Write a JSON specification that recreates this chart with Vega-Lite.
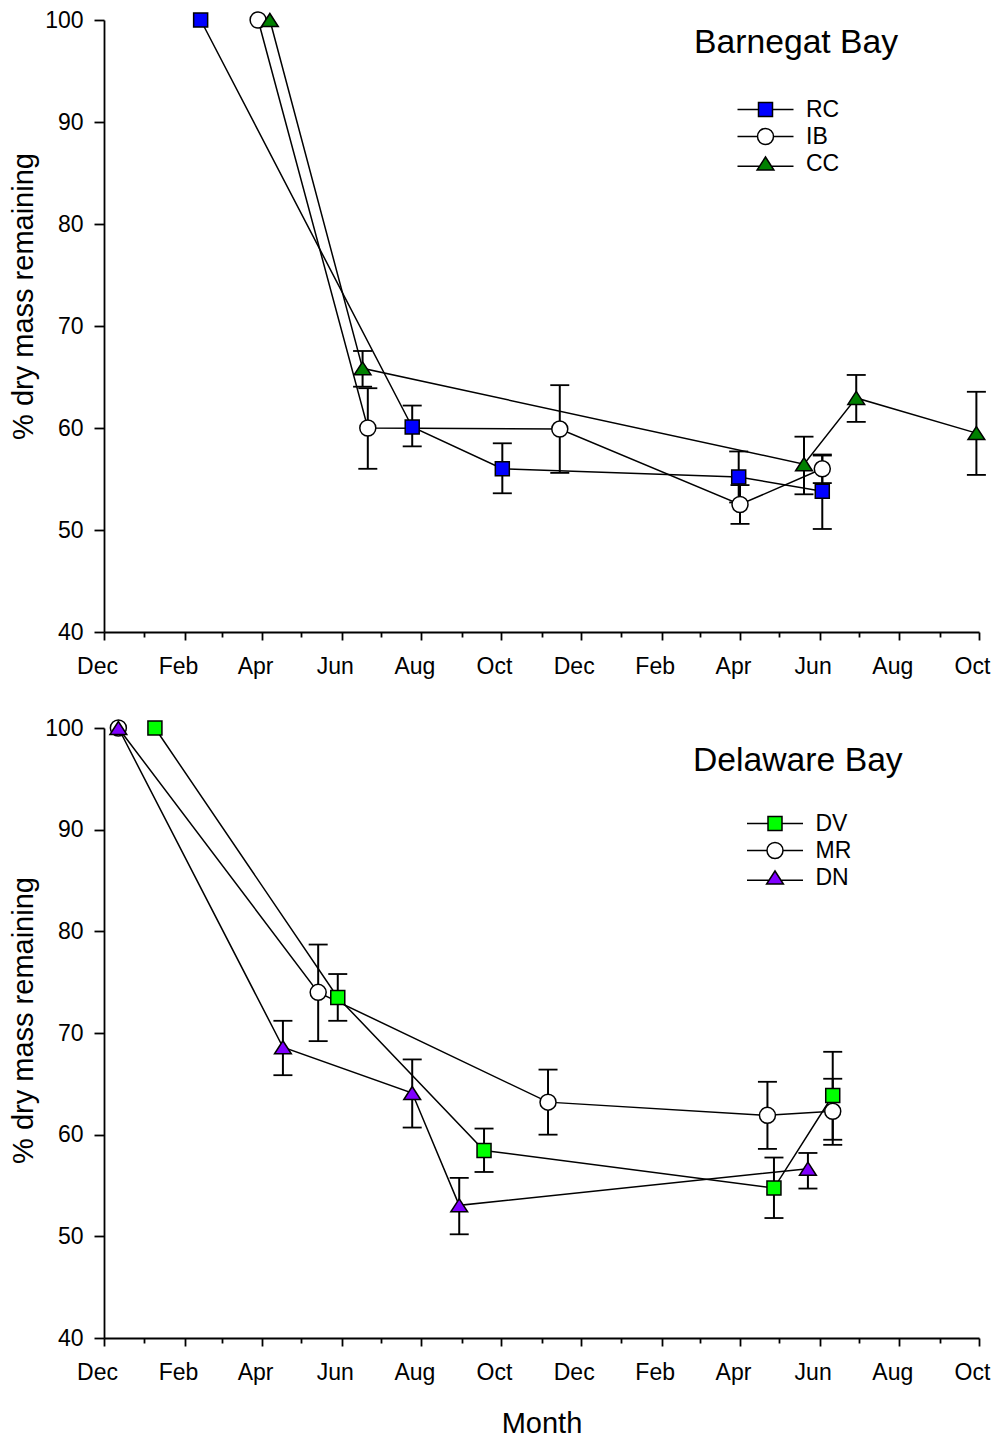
{
  "$schema": "https://vega.github.io/schema/vega-lite/v6.json",
  "background": "white",
  "padding": {"left": 9, "top": 8, "right": 5, "bottom": 5},
  "bounds": "flush",
  "spacing": 96,
  "config": {
    "font": "Liberation Sans",
    "view": {"stroke": null},
    "axis": {
      "grid": false, "domainColor": "black", "tickColor": "black", "labelColor": "black", "titleColor": "black",
      "domainWidth": 1.8, "tickWidth": 1.8, "labelFontSize": 23, "titleFontSize": 29, "titleFontWeight": "normal",
      "labelFont": "Liberation Sans", "titleFont": "Liberation Sans", "labelFlush": false, "labelOverlap": false, "labelBound": false
    },
    "title": {"fontSize": 33.7, "fontWeight": "normal", "font": "Liberation Sans", "anchor": "start", "frame": "group", "offset": 0, "baseline": "alphabetic", "color": "black"},
    "legend": {"labelFontSize": 23, "labelColor": "black", "labelFont": "Liberation Sans", "labelLimit": 0, "symbolSize": 196, "symbolStrokeWidth": 1.5, "symbolOpacity": 1, "padding": 0, "rowPadding": 3, "title": null}
  },
  "datasets": {
    "barnegat": [
      {"site": "RC", "date": "2015-02-13", "mean": 100, "lo": null, "hi": null},
      {"site": "RC", "date": "2015-07-25", "mean": 60.1, "lo": 58.2, "hi": 62.2},
      {"site": "RC", "date": "2015-10-02", "mean": 56.0, "lo": 53.6, "hi": 58.5},
      {"site": "RC", "date": "2016-03-31", "mean": 55.2, "lo": 52.7, "hi": 57.7},
      {"site": "RC", "date": "2016-06-03", "mean": 53.8, "lo": 50.1, "hi": 57.3},
      {"site": "IB", "date": "2015-03-29", "mean": 100, "lo": null, "hi": null},
      {"site": "IB", "date": "2015-06-21", "mean": 60.0, "lo": 56.0, "hi": 63.9},
      {"site": "IB", "date": "2015-11-15", "mean": 59.9, "lo": 55.6, "hi": 64.2},
      {"site": "IB", "date": "2016-04-01", "mean": 52.5, "lo": 50.6, "hi": 54.4},
      {"site": "IB", "date": "2016-06-03", "mean": 56.0, "lo": 54.6, "hi": 57.4},
      {"site": "CC", "date": "2015-04-07", "mean": 100, "lo": null, "hi": null},
      {"site": "CC", "date": "2015-06-17", "mean": 65.85, "lo": 64.05, "hi": 67.55},
      {"site": "CC", "date": "2016-05-20", "mean": 56.45, "lo": 53.5, "hi": 59.15},
      {"site": "CC", "date": "2016-06-29", "mean": 62.95, "lo": 60.6, "hi": 65.2},
      {"site": "CC", "date": "2016-09-29", "mean": 59.5, "lo": 55.4, "hi": 63.55}
    ],
    "delaware": [
      {"site": "DV", "date": "2015-01-09", "mean": 100, "lo": null, "hi": null},
      {"site": "DV", "date": "2015-05-29", "mean": 73.5, "lo": 71.2, "hi": 75.8},
      {"site": "DV", "date": "2015-09-18", "mean": 58.45, "lo": 56.33, "hi": 60.6},
      {"site": "DV", "date": "2016-04-27", "mean": 54.75, "lo": 51.8, "hi": 57.75},
      {"site": "DV", "date": "2016-06-11", "mean": 63.85, "lo": 59.5, "hi": 68.15},
      {"site": "MR", "date": "2014-12-12", "mean": 100, "lo": null, "hi": null},
      {"site": "MR", "date": "2015-05-14", "mean": 74.0, "lo": 69.2, "hi": 78.7},
      {"site": "MR", "date": "2015-11-06", "mean": 63.2, "lo": 60.0, "hi": 66.4},
      {"site": "MR", "date": "2016-04-22", "mean": 61.9, "lo": 58.6, "hi": 65.2},
      {"site": "MR", "date": "2016-06-11", "mean": 62.3, "lo": 59.0, "hi": 65.5},
      {"site": "DN", "date": "2014-12-12", "mean": 100, "lo": null, "hi": null},
      {"site": "DN", "date": "2015-04-17", "mean": 68.6, "lo": 65.85, "hi": 71.2},
      {"site": "DN", "date": "2015-07-25", "mean": 64.1, "lo": 60.7, "hi": 67.4},
      {"site": "DN", "date": "2015-08-30", "mean": 53.05, "lo": 50.2, "hi": 55.75},
      {"site": "DN", "date": "2016-05-23", "mean": 56.65, "lo": 54.7, "hi": 58.2}
    ]
  },
  "vconcat": [
    {
      "width": 875, "height": 612,
      "title": {"text": "Barnegat Bay", "dx": 590, "dy": 55},
      "data": {"name": "barnegat"},
      "encoding": {
        "x": {
          "field": "date", "type": "temporal",
          "scale": {"type": "utc", "nice": false, "domain": [{"year": 2014, "month": 12, "date": 1, "utc": true}, {"year": 2016, "month": 10, "date": 1, "utc": true}]},
          "axis": {
            "title": null, "labelAngle": 0, "labelPadding": 15, "labelOffset": -7,
            "values": [
              {"year": 2014, "month": 12, "date": 1, "utc": true}, {"year": 2015, "month": 1, "date": 1, "utc": true}, {"year": 2015, "month": 2, "date": 1, "utc": true},
              {"year": 2015, "month": 3, "date": 1, "utc": true}, {"year": 2015, "month": 4, "date": 1, "utc": true}, {"year": 2015, "month": 5, "date": 1, "utc": true},
              {"year": 2015, "month": 6, "date": 1, "utc": true}, {"year": 2015, "month": 7, "date": 1, "utc": true}, {"year": 2015, "month": 8, "date": 1, "utc": true},
              {"year": 2015, "month": 9, "date": 1, "utc": true}, {"year": 2015, "month": 10, "date": 1, "utc": true}, {"year": 2015, "month": 11, "date": 1, "utc": true},
              {"year": 2015, "month": 12, "date": 1, "utc": true}, {"year": 2016, "month": 1, "date": 1, "utc": true}, {"year": 2016, "month": 2, "date": 1, "utc": true},
              {"year": 2016, "month": 3, "date": 1, "utc": true}, {"year": 2016, "month": 4, "date": 1, "utc": true}, {"year": 2016, "month": 5, "date": 1, "utc": true},
              {"year": 2016, "month": 6, "date": 1, "utc": true}, {"year": 2016, "month": 7, "date": 1, "utc": true}, {"year": 2016, "month": 8, "date": 1, "utc": true},
              {"year": 2016, "month": 9, "date": 1, "utc": true}, {"year": 2016, "month": 10, "date": 1, "utc": true}
            ],
            "labelExpr": "utcmonth(datum.value) % 2 == 1 ? utcFormat(datum.value, '%b') : ''",
            "tickSize": {"condition": {"test": "utcmonth(datum.value) % 2 == 1", "value": 8}, "value": 5}
          }
        }
      },
      "layer": [
        {
          "mark": {"type": "rule", "color": "black", "strokeWidth": 2},
          "encoding": {
            "y": {"field": "lo", "type": "quantitative", "title": "% dry mass remaining", "scale": {"domain": [40, 100], "nice": false},
              "axis": {"values": [40, 50, 60, 70, 80, 90, 100], "tickSize": 10, "labelPadding": 11, "titlePadding": 6, "titleY": 276}},
            "y2": {"field": "hi"}
          }
        },
        {
          "mark": {"type": "tick", "orient": "horizontal", "color": "black", "size": 19, "thickness": 1.8, "opacity": 1},
          "encoding": {"y": {"field": "lo", "type": "quantitative", "title": "% dry mass remaining", "scale": {"domain": [40, 100], "nice": false}}}
        },
        {
          "mark": {"type": "tick", "orient": "horizontal", "color": "black", "size": 19, "thickness": 1.8, "opacity": 1},
          "encoding": {"y": {"field": "hi", "type": "quantitative", "title": "% dry mass remaining", "scale": {"domain": [40, 100], "nice": false}}}
        },
        {
          "mark": {"type": "line", "color": "black", "strokeWidth": 1.5},
          "encoding": {
            "y": {"field": "mean", "type": "quantitative", "title": "% dry mass remaining", "scale": {"domain": [40, 100], "nice": false}},
            "detail": {"field": "site", "type": "nominal"}
          }
        },
        {
          "mark": {"type": "point", "filled": true, "stroke": "black", "strokeWidth": 1.5, "size": 196, "opacity": 1},
          "encoding": {
            "y": {"field": "mean", "type": "quantitative", "title": "% dry mass remaining", "scale": {"domain": [40, 100], "nice": false}},
            "shape": {
              "field": "site", "type": "nominal", "legend": null,
              "scale": {"domain": ["RC", "IB", "CC"], "range": ["M-1,-1H1V1H-1Z", "M1.143,0A1.143,1.143,0,1,1,-1.143,0A1.143,1.143,0,1,1,1.143,0Z", "M0,-0.93L1.2,0.93L-1.2,0.93Z"]}
            },
            "fill": {
              "field": "site", "type": "nominal", "legend": null,
              "scale": {"domain": ["RC", "IB", "CC"], "range": ["#0000ff", "#ffffff", "#008000"]}
            }
          }
        },
        {
          "mark": {"type": "point", "filled": true, "size": 196, "opacity": 0},
          "encoding": {
            "y": {"field": "mean", "type": "quantitative", "title": "% dry mass remaining", "scale": {"domain": [40, 100], "nice": false}},
            "shape": {
              "field": "site", "type": "nominal",
              "scale": {"domain": ["RC", "IB", "CC"], "range": ["M-4,0H-1M1,0H4M-1,-1H1V1H-1Z", "M-4,0H-1.143M1.143,0H4M1.143,0A1.143,1.143,0,1,1,-1.143,0A1.143,1.143,0,1,1,1.143,0Z", "M-4,0.4H-0.86M0.86,0.4H4M0,-0.93L1.2,0.93L-1.2,0.93Z"]},
              "legend": {"title": null, "orient": "none", "legendX": 650, "legendY": 78, "labelOffset": 29, "symbolOpacity": 1}
            },
            "fill": {
              "field": "site", "type": "nominal",
              "scale": {"domain": ["RC", "IB", "CC"], "range": ["#0000ff", "#ffffff", "#008000"]},
              "legend": {"title": null, "orient": "none", "legendX": 650, "legendY": 78, "labelOffset": 29, "symbolOpacity": 1}
            },
            "stroke": {
              "field": "site", "type": "nominal",
              "scale": {"domain": ["RC", "IB", "CC"], "range": ["#000000", "#000000", "#000000"]},
              "legend": {"title": null, "orient": "none", "legendX": 650, "legendY": 78, "labelOffset": 29, "symbolOpacity": 1}
            }
          }
        }
      ],
      "resolve": {"scale": {"shape": "independent", "fill": "independent", "stroke": "independent"}}
    },
    {
      "width": 875, "height": 610,
      "title": {"text": "Delaware Bay", "dx": 589, "dy": 65},
      "data": {"name": "delaware"},
      "encoding": {
        "x": {
          "field": "date", "type": "temporal",
          "scale": {"type": "utc", "nice": false, "domain": [{"year": 2014, "month": 12, "date": 1, "utc": true}, {"year": 2016, "month": 10, "date": 1, "utc": true}]},
          "axis": {
            "title": "Month", "titlePadding": 25, "labelAngle": 0, "labelPadding": 15, "labelOffset": -7,
            "values": [
              {"year": 2014, "month": 12, "date": 1, "utc": true}, {"year": 2015, "month": 1, "date": 1, "utc": true}, {"year": 2015, "month": 2, "date": 1, "utc": true},
              {"year": 2015, "month": 3, "date": 1, "utc": true}, {"year": 2015, "month": 4, "date": 1, "utc": true}, {"year": 2015, "month": 5, "date": 1, "utc": true},
              {"year": 2015, "month": 6, "date": 1, "utc": true}, {"year": 2015, "month": 7, "date": 1, "utc": true}, {"year": 2015, "month": 8, "date": 1, "utc": true},
              {"year": 2015, "month": 9, "date": 1, "utc": true}, {"year": 2015, "month": 10, "date": 1, "utc": true}, {"year": 2015, "month": 11, "date": 1, "utc": true},
              {"year": 2015, "month": 12, "date": 1, "utc": true}, {"year": 2016, "month": 1, "date": 1, "utc": true}, {"year": 2016, "month": 2, "date": 1, "utc": true},
              {"year": 2016, "month": 3, "date": 1, "utc": true}, {"year": 2016, "month": 4, "date": 1, "utc": true}, {"year": 2016, "month": 5, "date": 1, "utc": true},
              {"year": 2016, "month": 6, "date": 1, "utc": true}, {"year": 2016, "month": 7, "date": 1, "utc": true}, {"year": 2016, "month": 8, "date": 1, "utc": true},
              {"year": 2016, "month": 9, "date": 1, "utc": true}, {"year": 2016, "month": 10, "date": 1, "utc": true}
            ],
            "labelExpr": "utcmonth(datum.value) % 2 == 1 ? utcFormat(datum.value, '%b') : ''",
            "tickSize": {"condition": {"test": "utcmonth(datum.value) % 2 == 1", "value": 8}, "value": 5}
          }
        }
      },
      "layer": [
        {
          "mark": {"type": "rule", "color": "black", "strokeWidth": 2},
          "encoding": {
            "y": {"field": "lo", "type": "quantitative", "title": "% dry mass remaining", "scale": {"domain": [40, 100], "nice": false},
              "axis": {"values": [40, 50, 60, 70, 80, 90, 100], "tickSize": 10, "labelPadding": 11, "titlePadding": 6, "titleY": 292}},
            "y2": {"field": "hi"}
          }
        },
        {
          "mark": {"type": "tick", "orient": "horizontal", "color": "black", "size": 19, "thickness": 1.8, "opacity": 1},
          "encoding": {"y": {"field": "lo", "type": "quantitative", "title": "% dry mass remaining", "scale": {"domain": [40, 100], "nice": false}}}
        },
        {
          "mark": {"type": "tick", "orient": "horizontal", "color": "black", "size": 19, "thickness": 1.8, "opacity": 1},
          "encoding": {"y": {"field": "hi", "type": "quantitative", "title": "% dry mass remaining", "scale": {"domain": [40, 100], "nice": false}}}
        },
        {
          "mark": {"type": "line", "color": "black", "strokeWidth": 1.5},
          "encoding": {
            "y": {"field": "mean", "type": "quantitative", "title": "% dry mass remaining", "scale": {"domain": [40, 100], "nice": false}},
            "detail": {"field": "site", "type": "nominal"}
          }
        },
        {
          "mark": {"type": "point", "filled": true, "stroke": "black", "strokeWidth": 1.5, "size": 196, "opacity": 1},
          "encoding": {
            "y": {"field": "mean", "type": "quantitative", "title": "% dry mass remaining", "scale": {"domain": [40, 100], "nice": false}},
            "shape": {
              "field": "site", "type": "nominal", "legend": null,
              "scale": {"domain": ["DV", "MR", "DN"], "range": ["M-1,-1H1V1H-1Z", "M1.143,0A1.143,1.143,0,1,1,-1.143,0A1.143,1.143,0,1,1,1.143,0Z", "M0,-0.93L1.2,0.93L-1.2,0.93Z"]}
            },
            "fill": {
              "field": "site", "type": "nominal", "legend": null,
              "scale": {"domain": ["DV", "MR", "DN"], "range": ["#00ff00", "#ffffff", "#8000ff"]}
            }
          }
        },
        {
          "mark": {"type": "point", "filled": true, "size": 196, "opacity": 0},
          "encoding": {
            "y": {"field": "mean", "type": "quantitative", "title": "% dry mass remaining", "scale": {"domain": [40, 100], "nice": false}},
            "shape": {
              "field": "site", "type": "nominal",
              "scale": {"domain": ["DV", "MR", "DN"], "range": ["M-4,0H-1M1,0H4M-1,-1H1V1H-1Z", "M-4,0H-1.143M1.143,0H4M1.143,0A1.143,1.143,0,1,1,-1.143,0A1.143,1.143,0,1,1,1.143,0Z", "M-4,0.4H-0.86M0.86,0.4H4M0,-0.93L1.2,0.93L-1.2,0.93Z"]},
              "legend": {"title": null, "orient": "none", "legendX": 659.5, "legendY": 84, "labelOffset": 29, "symbolOpacity": 1}
            },
            "fill": {
              "field": "site", "type": "nominal",
              "scale": {"domain": ["DV", "MR", "DN"], "range": ["#00ff00", "#ffffff", "#8000ff"]},
              "legend": {"title": null, "orient": "none", "legendX": 659.5, "legendY": 84, "labelOffset": 29, "symbolOpacity": 1}
            },
            "stroke": {
              "field": "site", "type": "nominal",
              "scale": {"domain": ["DV", "MR", "DN"], "range": ["#000000", "#000000", "#000000"]},
              "legend": {"title": null, "orient": "none", "legendX": 659.5, "legendY": 84, "labelOffset": 29, "symbolOpacity": 1}
            }
          }
        }
      ],
      "resolve": {"scale": {"shape": "independent", "fill": "independent", "stroke": "independent"}}
    }
  ],
  "resolve": {"scale": {"x": "independent", "y": "independent"}}
}
